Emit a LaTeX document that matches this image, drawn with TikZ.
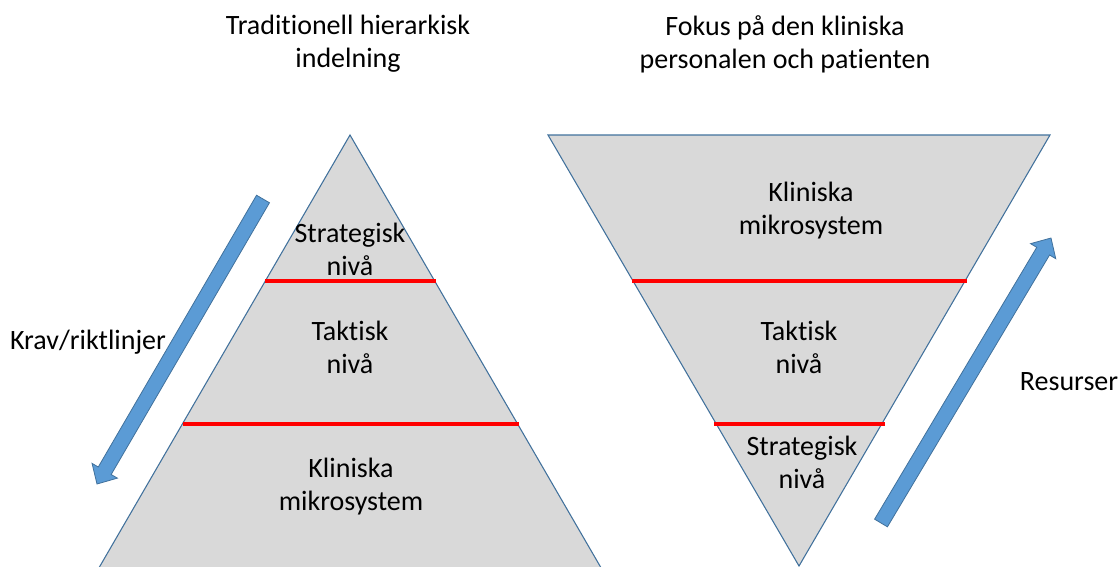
\documentclass[tikz,border=0pt]{standalone}
\usepackage{fontspec}
\setmainfont{Carlito}[Ligatures=NoCommon]
\usetikzlibrary{calc}
\definecolor{levelgray}{HTML}{D9D9D9}
\definecolor{edgeblue}{HTML}{41719C}
\definecolor{arrowblue}{HTML}{5B9BD5}

% block arrow from #1 (tail) to #2 (tip)
\newcommand\blockarrow[2]{%
  \coordinate (hb) at ($(#2)!11.5pt!(#1)$);
  \draw[bigarrow] ($(#1)!5.6pt!90:(#2)$) -- ($(hb)!5.6pt!-90:(#1)$)
    -- ($(hb)!11pt!-90:(#1)$) -- (#2) -- ($(hb)!11pt!90:(#1)$)
    -- ($(hb)!5.6pt!90:(#1)$) -- ($(#1)!5.6pt!-90:(#2)$) -- cycle;
}

\begin{document}
\begin{tikzpicture}[x=0.75pt,y=-0.75pt,
    lbl/.style={align=center,inner sep=0pt,font=\fontsize{21}{24.75}\selectfont},
    level/.style={fill=levelgray,draw=edgeblue,line width=0.8pt},
    divider/.style={red,line width=2.6pt},
    bigarrow/.style={fill=arrowblue,draw=edgeblue,line width=0.6pt}]
  \useasboundingbox (0,0) rectangle (1120,567);
  \clip (0,0) rectangle (1120,567);
  % pyramid and upside-down pyramid
  \draw[level] (350,135) -- (89,585) -- (611,585) -- cycle;
  \draw[level] (548,135) -- (1050,135) -- (799,566) -- cycle;
  \draw[divider] (265,281) -- (436,281);
  \draw[divider] (183,424) -- (519,424);
  \draw[divider] (632,281) -- (967,281);
  \draw[divider] (714,424) -- (885,424);

  \node[lbl] (titleL) at (348,44) {Traditionell hierarkisk\\indelning};
  \node[lbl] (titleR) at (785,44) {Fokus på den kliniska\\personalen och patienten};

  \node[lbl] (stratL) at (350,249) {Strategisk\\nivå};
  \node[lbl] (taktL)  at (350,347) {Taktisk\\nivå};
  \node[lbl] (klinL)  at (351,487) {Kliniska\\mikrosystem};
  \node[lbl] (klinR)  at (811,211) {Kliniska\\mikrosystem};
  \node[lbl] (taktR)  at (799,347) {Taktisk\\nivå};
  \node[lbl] (stratR) at (802,462) {Strategisk\\nivå};

  \node[lbl] (krav) at (88,342) {Krav/riktlinjer};
  \node[lbl] (resurs) at (1069,382) {Resurser};

  % arrows
  \coordinate (kravtail) at (263,199);
  \coordinate (kravtip) at (97,484);
  \coordinate (resurstail) at (881,523);
  \coordinate (resurstip) at (1051,238);
  \blockarrow{kravtail}{kravtip}
  \blockarrow{resurstail}{resurstip}
\end{tikzpicture}
\end{document}
